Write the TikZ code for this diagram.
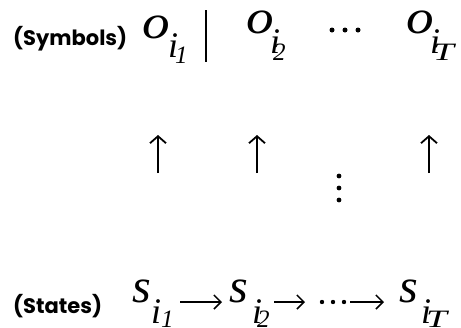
\documentclass[tikz,border=0pt]{standalone}
\usepackage{fontspec}
\usepackage{graphicx}
\usetikzlibrary{arrows.meta}
\newfontfamily\myitfont{Liberation Serif}[UprightFont=* Italic]
\newfontfamily\labfont{Poppins}
\tikzset{
  lab/.style={inner sep=0pt, font=\labfont\bfseries\fontsize{21}{21}\selectfont},
  base/.style={inner sep=0pt, font=\myitfont\fontsize{48}{48}\selectfont},
  sub/.style={inner sep=0pt, font=\myitfont\fontsize{36}{36}\selectfont},
  subsub/.style={inner sep=0pt, font=\myitfont\fontsize{25}{25}\selectfont},
  uparrow/.style={line width=1.8pt, -{Straight Barb[length=7pt,width=16pt,line width=1.8pt]}},
  rarrow/.style={line width=1.5pt, -{Straight Barb[length=7pt,width=14pt,line width=1.5pt]}},
  dot/.style={fill=black}
}
\newcommand{\wideo}{\scalebox{1.15}[1]{o}}
\begin{document}
\begin{tikzpicture}[x=1pt,y=-1pt]
\useasboundingbox (0,0) rectangle (461,327);
% labels
\node[lab, anchor=base west] (symlab) at (13,45) {(Symbols)};
\node[lab, anchor=base west] (statelab) at (13,313) {(States)};
% top row
\node[base, anchor=base west] (o1) at (142,38) {\wideo};
\node[sub, anchor=base west] (o1i) at (168,57) {i};
\node[subsub, anchor=base west] (o1n) at (175,63) {1};
\coordinate (bar1) at (206,10);
\coordinate (bar2) at (206,62);
\draw[line width=1.8pt] (bar1) -- (bar2);
\node[base, anchor=base west] (o2) at (246,33) {\wideo};
\node[sub, anchor=base west] (o2i) at (270,53) {i};
\node[subsub, anchor=base west] (o2n) at (273,60) {2};
\foreach \x [count=\k] in {332,345,358} \fill[dot] (\x,30) circle (2.5) coordinate (td\k);
\node[base, anchor=base west] (oT) at (406,33) {\wideo};
\node[sub, anchor=base west] (oTi) at (430,53) {i};
\node[subsub, anchor=base west] (oTn) at (433,60) {\scalebox{1.5}[1]{T}};
% up arrows
\coordinate (a1s) at (158,173); \coordinate (a1e) at (158,135);
\coordinate (a2s) at (257,173); \coordinate (a2e) at (257,135);
\coordinate (a3s) at (429,173); \coordinate (a3e) at (429,135);
\draw[uparrow] (a1s) -- (a1e);
\draw[uparrow] (a2s) -- (a2e);
\draw[uparrow] (a3s) -- (a3e);
\foreach \y [count=\k] in {176,188,200} \fill[dot] (339,\y) circle (2.4) coordinate (vd\k);
% bottom row
\node[base, anchor=base west] (s1) at (132,302) {s};
\node[sub, anchor=base west] (s1i) at (151,323) {i};
\node[subsub, anchor=base west] (s1n) at (161,327) {1};
\node[base, anchor=base west] (s2) at (229,302) {s};
\node[sub, anchor=base west] (s2i) at (252,323) {i};
\node[subsub, anchor=base west] (s2n) at (257,327) {2};
\node[base, anchor=base west] (sT) at (399,302) {s};
\node[sub, anchor=base west] (sTi) at (421,323) {i};
\node[subsub, anchor=base west] (sTn) at (426,327) {\scalebox{1.5}[1]{T}};
\coordinate (h1s) at (180,302); \coordinate (h1e) at (222,302);
\coordinate (h2s) at (274,302); \coordinate (h2e) at (305,302);
\coordinate (h3s) at (350,302); \coordinate (h3e) at (384,302);
\draw[rarrow] (h1s) -- (h1e);
\draw[rarrow] (h2s) -- (h2e);
\draw[rarrow] (h3s) -- (h3e);
\foreach \x [count=\k] in {322,333,344} \fill[dot] (\x,302) circle (2.2) coordinate (bd\k);
\end{tikzpicture}
\end{document}
